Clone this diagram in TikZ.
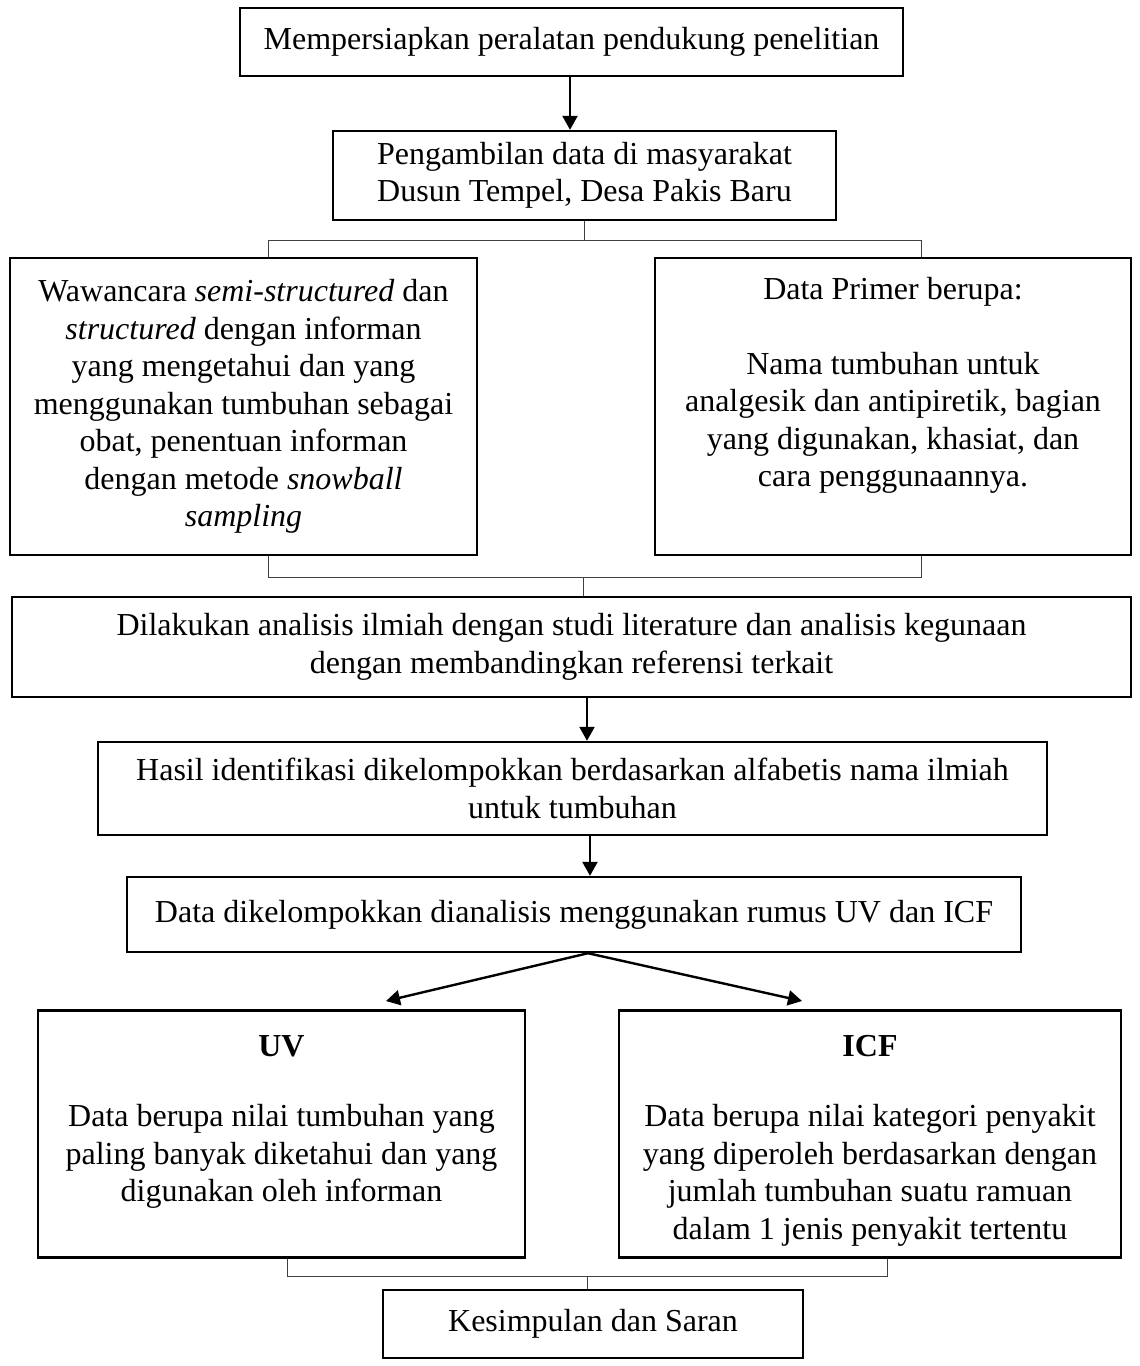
\documentclass[tikz,border=0pt]{standalone}
\usepackage{fontspec}
\setmainfont{Liberation Serif}
\usetikzlibrary{positioning, arrows.meta}

\begin{document}
\begin{tikzpicture}[x=0.5pt, y=-0.5pt,
    % Define the styles for boxes, texts and connectors
    box/.style={draw, line width=1.2pt, align=center, inner sep=0pt,
        font=\fontsize{16}{18.75}\selectfont},
    boxtext/.style={align=center, inner sep=0pt,
        font=\fontsize{16}{18.75}\selectfont},
    link/.style={line width=0.5pt, black!75},
    flow/.style={line width=1.2pt, -{Triangle[length=7pt, width=7.5pt]}}
]

\useasboundingbox (0,0) rectangle (1140,1366);

% Define the boxes
\node[box, minimum width=331.5pt, minimum height=34pt] (prep) at (571.5,42)
    {Mempersiapkan peralatan pendukung penelitian};
\node[box, minimum width=251.5pt, minimum height=44.5pt] (ambil) at (584.5,175.5)
    {Pengambilan data di masyarakat\\Dusun Tempel, Desa Pakis Baru};
\node[box, minimum width=233.5pt, minimum height=148.5pt] (wawancara) at (243.5,406.5)
    {Wawancara \textit{semi-structured} dan\\\textit{structured} dengan informan\\
     yang mengetahui dan yang\\menggunakan tumbuhan sebagai\\obat, penentuan informan\\
     dengan metode \textit{snowball}\\\textit{sampling}};
\node[box, minimum width=238pt, minimum height=148.5pt] (primer) at (893,406.5) {};
\node[boxtext, below=10pt of primer.north] (primertext)
    {Data Primer berupa:\\[18.75pt]Nama tumbuhan untuk\\analgesik dan antipiretik, bagian\\
     yang digunakan, khasiat, dan\\cara penggunaannya.};
\node[box, minimum width=559.5pt, minimum height=50pt] (analisis) at (571.5,647)
    {Dilakukan analisis ilmiah dengan studi literature dan analisis kegunaan\\
     dengan membandingkan referensi terkait};
\node[box, minimum width=474.5pt, minimum height=46.5pt] (hasil) at (572.5,788.5)
    {Hasil identifikasi dikelompokkan berdasarkan alfabetis nama ilmiah\\untuk tumbuhan};
\node[box, minimum width=447pt, minimum height=37.5pt] (rumus) at (574,914.5)
    {Data dikelompokkan dianalisis menggunakan rumus UV dan ICF};
\node[box, minimum width=243.5pt, minimum height=123.5pt] (uv) at (281.5,1134) {};
\node[boxtext, below=13pt of uv.north] (uvtext)
    {\textbf{UV}\\[16.25pt]Data berupa nilai tumbuhan yang\\paling banyak diketahui dan yang\\
     digunakan oleh informan};
\node[box, minimum width=251pt, minimum height=123.5pt] (icf) at (870,1134) {};
\node[boxtext, below=13pt of icf.north] (icftext)
    {\textbf{ICF}\\[16.25pt]Data berupa nilai kategori penyakit\\yang diperoleh berdasarkan dengan\\
     jumlah tumbuhan suatu ramuan\\dalam 1 jenis penyakit tertentu};
\node[box, minimum width=210pt, minimum height=34pt] (simpulan) at (593,1324)
    {Kesimpulan dan Saran};

% Define the bracket points
\coordinate (splitL) at (268,240);
\coordinate (splitR) at (921,240);
\coordinate (joinL) at (268,577);
\coordinate (joinR) at (921,577);
\coordinate (join) at (583,577);
\coordinate (endL) at (287,1276);
\coordinate (endR) at (887,1276);
\coordinate (end) at (587,1276);
\coordinate (uvtip) at (386,1001);
\coordinate (icftip) at (802,1001);

% Draw the brackets
\draw[link] (ambil.south) -- (ambil.south |- splitL);
\draw[link] (wawancara.north -| splitL) -- (splitL) -- (splitR) -- (primer.north -| splitR);
\draw[link] (wawancara.south -| joinL) -- (joinL) -- (joinR) -- (primer.south -| joinR);
\draw[link] (join) -- (analisis.north -| join);
\draw[link] (uv.south -| endL) -- (endL) -- (endR) -- (icf.south -| endR);
\draw[link] (end) -- (simpulan.north -| end);

% Draw the arrows
\draw[flow] ([xshift=-0.75pt]prep.south) -- ([xshift=-0.75pt]prep.south |- ambil.north);
\draw[flow] ([xshift=7.75pt]analisis.south) -- ([xshift=7.75pt]analisis.south |- hasil.north);
\draw[flow] ([xshift=8.75pt]hasil.south) -- ([xshift=8.75pt]hasil.south |- rumus.north);
\draw[flow] ([xshift=7pt]rumus.south) -- (uvtip);
\draw[flow] ([xshift=7pt]rumus.south) -- (icftip);

\end{tikzpicture}
\end{document}
